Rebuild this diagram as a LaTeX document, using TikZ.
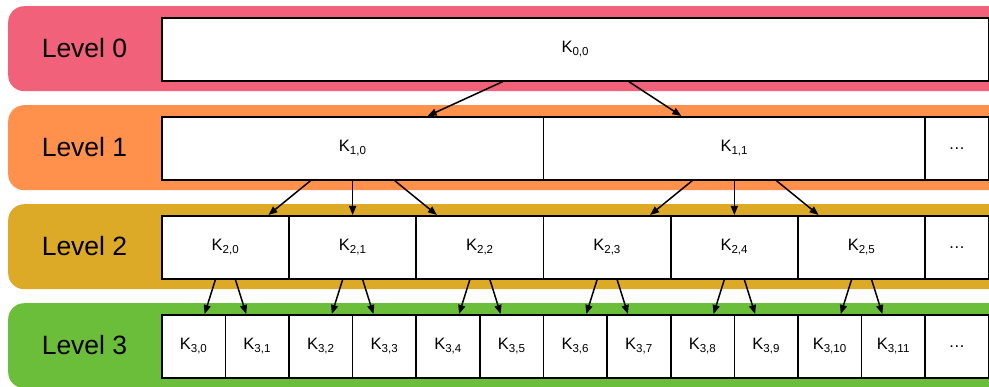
\documentclass[tikz,border=0pt]{standalone}
\usepackage{fontspec}
\setmainfont{Liberation Sans}
\usetikzlibrary{arrows.meta}

\definecolor{bandpink}{RGB}{241,97,121}
\definecolor{bandorange}{RGB}{255,145,77}
\definecolor{bandgold}{RGB}{221,170,40}
\definecolor{bandgreen}{RGB}{107,190,58}

\tikzset{
  band/.style={rounded corners=16pt, draw=none, minimum height=85pt,
    minimum width=1010pt, inner sep=0pt, anchor=north west},
  levellabel/.style={font=\fontsize{26.5}{30}\selectfont, inner sep=0pt},
  cell/.style={draw=black, line width=1.6pt, fill=white, inner sep=0pt,
    minimum height=63pt, anchor=north west, font=\fontsize{16.5}{19}\selectfont},
  link/.style={line width=1.5pt, -{Triangle[length=9pt,width=7pt]}}
}

\newcommand{\kk}[2]{K\textsubscript{#1,#2}}

\begin{document}
\begin{tikzpicture}[x=1pt,y=-1pt]
\useasboundingbox (0,0) rectangle (989,387);

% coloured level bands (open to the right)
\node[band, fill=bandpink]   (band0) at (8,6)   {};
\node[band, fill=bandorange] (band1) at (8,105) {};
\node[band, fill=bandgold]   (band2) at (8,204) {};
\node[band, fill=bandgreen]  (band3) at (8,303) {};

\node[levellabel] (lab0) at (84.5,48.5)  {Level 0};
\node[levellabel] (lab1) at (84.5,147.5) {Level 1};
\node[levellabel] (lab2) at (84.5,246.5) {Level 2};
\node[levellabel] (lab3) at (84.5,345.5) {Level 3};

% cell width unit: 13 leaf cells between x=161 and x=988
\pgfmathsetmacro{\w}{(988-161)/13}

% level 0
\node[cell, minimum width=827pt] (k00) at (161,17) {\kk{0}{0}};

% level 1
\node[cell, minimum width=6*\w pt] (k10) at (161,116) {\kk{1}{0}};
\node[cell, minimum width=6*\w pt] (k11) at (161+6*\w,116) {\kk{1}{1}};
\node[cell, minimum width=\w pt] (l1dots) at (161+12*\w,116) {\dots};

% level 2
\foreach \i in {0,...,5}{
  \node[cell, minimum width=2*\w pt] (k2\i) at (161+2*\i*\w,215) {\kk{2}{\i}};
}
\node[cell, minimum width=\w pt] (l2dots) at (161+12*\w,215) {\dots};

% level 3
\foreach \i in {0,...,11}{
  \node[cell, minimum width=\w pt] (k3\i) at (161+\i*\w,314) {\kk{3}{\i}};
}
\node[cell, minimum width=\w pt] (l3dots) at (161+12*\w,314) {\dots};

% level 0 -> level 1
\draw[link] ([xshift=-72.5pt]k00.south) -- ([xshift=75pt]k10.north);
\draw[link] ([xshift=53.5pt]k00.south) -- ([xshift=-53pt]k11.north);

% level 1 -> level 2
\foreach \p/\a/\b/\c in {k10/k20/k21/k22, k11/k23/k24/k25}{
  \draw[link] ([xshift=-42pt]\p.south) -- ([xshift=43pt]\a.north);
  \draw[link] (\p.south) -- (\b.north);
  \draw[link] ([xshift=42pt]\p.south) -- ([xshift=-43pt]\c.north);
}

% level 2 -> level 3
\foreach \i in {0,...,5}{
  \pgfmathtruncatemacro{\l}{2*\i}
  \pgfmathtruncatemacro{\r}{2*\i+1}
  \draw[link] ([xshift=-10pt]k2\i.south) -- ([xshift=11pt]k3\l.north);
  \draw[link] ([xshift=10pt]k2\i.south) -- ([xshift=-11pt]k3\r.north);
}
\end{tikzpicture}
\end{document}
